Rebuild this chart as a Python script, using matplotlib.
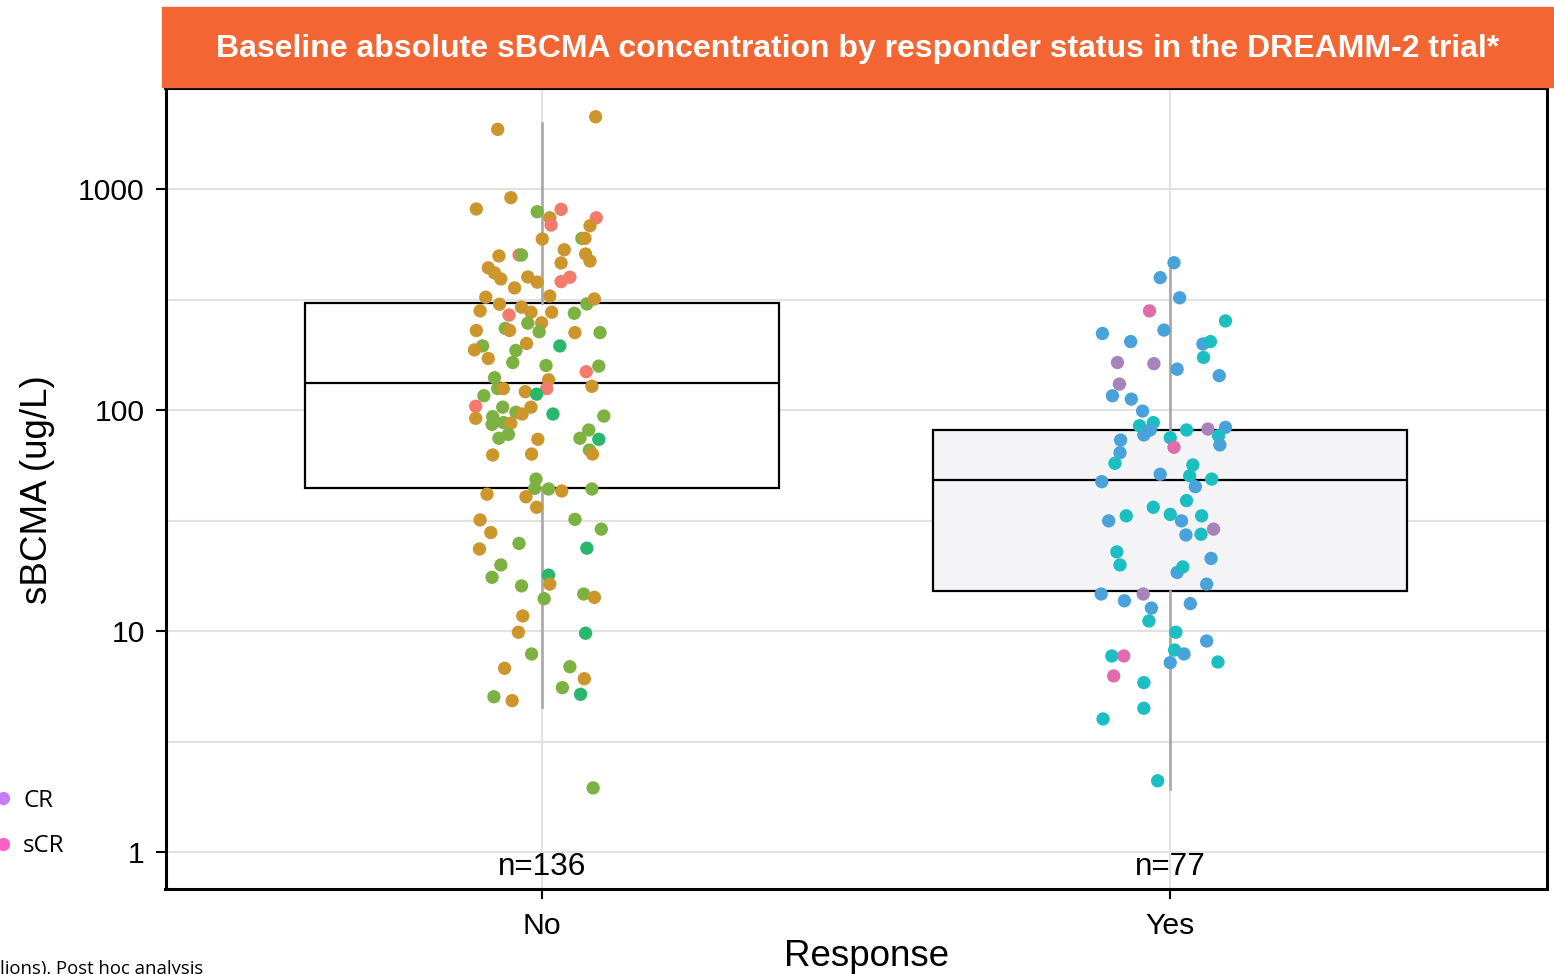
import numpy as np
import matplotlib
matplotlib.use("Agg")
import matplotlib.pyplot as plt
from matplotlib.patches import Rectangle
from matplotlib.lines import Line2D
from matplotlib.ticker import FixedLocator, NullFormatter

plt.rcParams['font.family'] = ['Liberation Sans', 'DejaVu Sans']

groups = ['No', 'Yes']
n_labels = ['n=136', 'n=77']

# box summary (ug/L)
box_q1 = [44.2, 15.1]
box_med = [133, 48.2]
box_q3 = [304, 81.1]
whisk_lo = [4.53, 1.92]
whisk_hi = [1990, 464]

# responder status colours
status_colors = {'NE': '#F47A6E', 'PD': '#CD962D', 'SD': '#7DB142', 'MR': '#29B76B',
                 'PR': '#49A2DA', 'VGPR': '#1BBFC1', 'CR': '#A883BB', 'sCR': '#E06DA9'}
legend_status = ['CR', 'sCR']
legend_colors = ['#C77CFF', '#FF61C3']

# non responders: value, jitter offset, status
no_vals = [1862, 2123, 914, 812, 789, 809, 741, 687, 741, 682,
           594, 598, 598, 531, 498, 503, 503, 508, 472, 463,
           440, 417, 392, 400, 379, 357, 381, 399, 328, 324,
           301, 281, 269, 292, 277, 277, 248, 247, 226, 274,
           302, 318, 229, 234, 229, 224, 224, 195, 187, 195,
           200, 186, 171, 164, 159, 158, 149, 140, 137, 125,
           125, 125, 121, 118, 128, 116, 104, 103, 103, 97.7,
           95.9, 95.9, 93.9, 91.7, 93.3, 86.1, 87.7, 87.1, 74.5, 77.6,
           73.7, 81.2, 74.5, 73.7, 65.9, 62.6, 63.2, 63.2, 48.7, 44.2,
           43.9, 43.0, 43.9, 41.6, 40.5, 36.3, 31.8, 32.0, 28.9, 27.9,
           24.9, 23.5, 23.7, 19.9, 17.5, 17.9, 16.3, 16.0, 14.0, 14.7,
           14.2, 11.7, 9.87, 9.77, 7.87, 6.78, 6.89, 6.08, 5.54, 5.17,
           5.04, 4.84, 1.95]
no_jit = [-0.071, 0.085, -0.050, -0.105, -0.008, 0.030, 0.012, 0.014, 0.086, 0.076,
          0.000, 0.063, 0.068, 0.035, -0.069, -0.037, -0.033, 0.069, 0.076, 0.030,
          -0.086, -0.076, -0.066, -0.023, -0.008, -0.044, 0.030, 0.044, 0.012, -0.090,
          -0.068, -0.099, -0.053, -0.033, -0.018, 0.015, -0.001, -0.023, -0.005, 0.051,
          0.071, 0.083, -0.105, -0.059, -0.052, 0.052, 0.092, -0.095, -0.108, 0.028,
          -0.025, -0.042, -0.086, -0.047, 0.006, 0.090, 0.070, -0.076, 0.010, 0.007,
          -0.071, -0.062, -0.027, -0.009, 0.079, -0.093, -0.106, -0.063, -0.018, -0.042,
          -0.032, 0.017, 0.098, -0.106, -0.079, -0.080, -0.062, -0.050, -0.069, -0.054,
          -0.007, 0.074, 0.060, 0.090, 0.075, -0.079, -0.017, 0.080, -0.010, -0.012,
          0.010, 0.031, 0.079, -0.088, -0.026, -0.009, -0.099, 0.052, 0.094, -0.082,
          -0.037, -0.100, 0.071, -0.066, -0.080, 0.010, 0.012, -0.033, 0.003, 0.066,
          0.083, -0.031, -0.038, 0.069, -0.017, -0.060, 0.044, 0.067, 0.032, 0.061,
          -0.077, -0.048, 0.081]
no_status = ('PD PD PD PD SD NE PD NE NE PD '
             'PD SD PD PD PD NE SD PD PD PD '
             'PD PD PD PD PD PD NE NE PD PD '
             'PD PD NE PD PD PD PD SD SD SD '
             'SD PD PD SD PD PD SD SD PD MR '
             'PD SD PD SD SD SD NE SD PD NE '
             'SD PD PD MR PD SD NE SD PD SD '
             'PD MR SD PD SD SD SD PD SD SD '
             'PD SD SD MR SD PD PD PD SD SD '
             'SD PD SD PD PD PD PD SD SD PD '
             'SD PD MR SD SD MR PD SD SD SD '
             'PD PD PD MR SD PD SD PD SD MR '
             'SD PD SD').split()

# responders
yes_vals = [464, 397, 322, 281, 253, 222, 204, 230, 199, 204,
            173, 164, 162, 153, 143, 131, 116, 112, 98.9, 84.9,
            87.7, 81.2, 77.1, 74.9, 67.8, 81.2, 82.0, 83.5, 76.5, 69.5,
            73.1, 64.1, 57.4, 51.2, 56.4, 50.4, 48.7, 47.4, 45.0, 38.9,
            36.3, 33.2, 33.7, 33.2, 31.5, 31.5, 27.2, 27.4, 28.9, 22.8,
            19.9, 18.4, 19.5, 21.3, 16.3, 14.7, 13.7, 14.7, 12.7, 13.3,
            11.1, 9.87, 9.01, 7.71, 7.71, 8.20, 7.87, 7.19, 7.24, 6.26,
            5.84, 4.47, 4.00, 2.10]
yes_jit = [0.006, -0.016, 0.015, -0.033, 0.088, -0.108, -0.063, -0.010, 0.052, 0.064,
           0.053, -0.084, -0.026, 0.011, 0.078, -0.081, -0.092, -0.062, -0.044, -0.049,
           -0.027, -0.032, -0.042, 0.000, 0.006, 0.026, 0.060, 0.088, 0.077, 0.079,
           -0.079, -0.080, -0.088, -0.016, 0.036, 0.031, 0.066, -0.109, 0.040, 0.026,
           -0.027, -0.070, 0.000, 0.050, -0.098, 0.018, 0.025, 0.049, 0.069, -0.085,
           -0.080, 0.011, 0.020, 0.065, 0.058, -0.110, -0.073, -0.043, -0.030, 0.032,
           -0.034, 0.009, 0.058, -0.093, -0.074, 0.007, 0.022, 0.000, 0.076, -0.090,
           -0.042, -0.042, -0.107, -0.020]
yes_status = ('PR PR PR sCR VGPR PR PR PR PR VGPR '
              'VGPR CR CR PR PR CR PR PR PR VGPR '
              'VGPR PR PR VGPR sCR VGPR CR PR VGPR PR '
              'PR PR VGPR PR VGPR VGPR VGPR PR PR VGPR '
              'VGPR VGPR VGPR VGPR PR PR PR VGPR CR VGPR '
              'VGPR PR VGPR PR PR PR PR CR PR PR '
              'VGPR VGPR PR VGPR sCR VGPR PR PR VGPR sCR '
              'VGPR VGPR VGPR VGPR').split()

W, H = 1554, 974
fig = plt.figure(figsize=(W / 100, H / 100), dpi=100)
ax = fig.add_axes([165.5 / W, 1 - 889 / H, (1547 - 165.5) / W, (889 - 88) / H])

ax.set_yscale('log')
ax.set_xlim(0.4, 2.6)
ax.set_ylim(0.68, 2865)

# boxes
stats = []
for i in range(2):
    stats.append(dict(med=box_med[i], q1=box_q1[i], q3=box_q3[i],
                      whislo=whisk_lo[i], whishi=whisk_hi[i], fliers=[]))
bp = ax.bxp(stats, positions=[1, 2], widths=0.755, patch_artist=True,
            showcaps=False, showfliers=False,
            boxprops=dict(edgecolor='black', linewidth=1.6),
            medianprops=dict(color='black', linewidth=1.6),
            whiskerprops=dict(color='#A8A8A8', linewidth=1.9))
bp['boxes'][0].set_facecolor('white')
bp['boxes'][1].set_facecolor('#F4F4F7')

# jittered points
ax.scatter(1 + np.array(no_jit), no_vals, c=[status_colors[s] for s in no_status],
           s=92, linewidths=0, zorder=4)
ax.scatter(2 + np.array(yes_jit), yes_vals, c=[status_colors[s] for s in yes_status],
           s=92, linewidths=0, zorder=4)

for i in range(2):
    ax.text(i + 1, 0.855, n_labels[i], ha='center', va='center', fontsize=22.7)

# axes styling
ax.set_xticks([1, 2])
ax.set_xticklabels(groups)
ax.set_yticks([1, 10, 100, 1000])
ax.set_yticklabels(['1', '10', '100', '1000'])
ax.yaxis.set_minor_locator(FixedLocator([3.162, 31.62, 316.2]))
ax.yaxis.set_minor_formatter(NullFormatter())
ax.tick_params(which='minor', length=0)
ax.tick_params(which='major', length=7, width=1.5, labelsize=21.7, pad=8)
ax.tick_params(axis='x', which='major', pad=9.5)
ax.grid(axis='y', which='both', color='#E2E2E2', linewidth=1.5)
ax.grid(axis='x', which='major', color='#E2E2E2', linewidth=1.5)
ax.set_axisbelow(True)
for sp in ax.spines.values():
    sp.set_linewidth(2.2)

fig.text(38 / W, 1 - 490 / H, 'sBCMA (ug/L)', rotation=90, ha='center', va='center', fontsize=26.5)
fig.text(867 / W, 1 - 957 / H, 'Response', ha='center', va='center', fontsize=26.5)

# title banner
fig.add_artist(Rectangle((162 / W, 1 - 87 / H), (W - 162) / W, 80 / H,
                         transform=fig.transFigure, color='#F36633', zorder=5))
fig.text(858 / W, 1 - 49 / H,
         'Baseline absolute sBCMA concentration by responder status in the DREAMM-2 trial*',
         ha='center', va='center', color='white', fontsize=23, fontweight='bold', zorder=6)

# cut-off legend on the left
handles = [Line2D([], [], ls='none', marker='o', ms=9.5, mfc=c, mec='none') for c in legend_colors]
fig.legend(handles, legend_status, loc='center left', bbox_to_anchor=(-8.7 / W, 1 - 823.5 / H),
           frameon=False, handlelength=1.0, handletextpad=0.32, labelspacing=0.9,
           borderpad=0, borderaxespad=0, prop=dict(family='Open Sans', size=17.3))

fig.text(0, 1 - 978 / H, 'lions). Post hoc analysis', ha='left', va='bottom',
         fontsize=13.3, family='Open Sans')

fig.savefig('out.png', dpi=100)
